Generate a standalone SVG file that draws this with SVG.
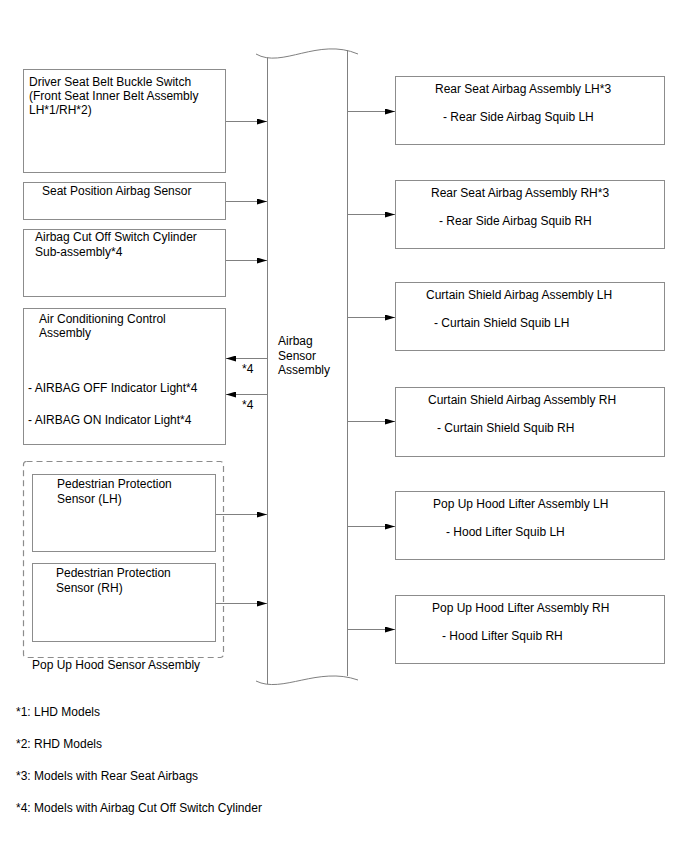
<svg xmlns="http://www.w3.org/2000/svg" width="688" height="852" viewBox="0 0 688 852">
<style>
text{font-family:"Liberation Sans",Arial,sans-serif;font-size:12px;fill:#000}
.box{fill:#fff;stroke:#8c8c8c;stroke-width:1}
.dash{fill:none;stroke:#8c8c8c;stroke-width:1.2;stroke-dasharray:6,4}
.ln{fill:none;stroke:#808080;stroke-width:1}
</style>
<defs>
<marker id="ah" viewBox="0 0 10 6" refX="10" refY="3" markerWidth="10" markerHeight="6" markerUnits="userSpaceOnUse" orient="auto">
<path d="M0,0 L10,3 L0,6 Z" fill="#000"/>
</marker>
</defs>
<rect width="688" height="852" fill="#fff"/>

<g id="airbag-sensor-assembly">
<path class="ln" d="M256,54 C282,69 318,37 358,54"/>
<path class="ln" d="M256,681 C282,694 318,666 358,680"/>
<line class="ln" x1="267.5" y1="57.5" x2="267.5" y2="684"/>
<line class="ln" x1="347.5" y1="50" x2="347.5" y2="676"/>
<text x="278" y="345">Airbag</text>
<text x="278" y="360">Sensor</text>
<text x="278" y="374">Assembly</text>
</g>

<g id="driver-buckle">
<rect class="box" x="23.5" y="69.5" width="202" height="103"/>
<text x="29" y="86">Driver Seat Belt Buckle Switch</text>
<text x="29" y="100">(Front Seat Inner Belt Assembly</text>
<text x="29" y="114">LH*1/RH*2)</text>
</g>

<g id="seat-position">
<rect class="box" x="23.5" y="182.5" width="202" height="37"/>
<text x="42" y="195">Seat Position Airbag Sensor</text>
</g>

<g id="cut-off-switch">
<rect class="box" x="23.5" y="229.5" width="202" height="67"/>
<text x="35" y="241">Airbag Cut Off Switch Cylinder</text>
<text x="35" y="256">Sub-assembly*4</text>
</g>

<g id="air-con">
<rect class="box" x="23.5" y="308.5" width="202" height="136"/>
<text x="39" y="323">Air Conditioning Control</text>
<text x="39" y="337">Assembly</text>
<text x="28" y="392">- AIRBAG OFF Indicator Light*4</text>
<text x="28" y="424">- AIRBAG ON Indicator Light*4</text>
</g>

<g id="pop-up-hood-sensor">
<rect class="dash" x="23.5" y="461.5" width="200" height="196" rx="3"/>
<text x="32" y="669">Pop Up Hood Sensor Assembly</text>
</g>

<g id="ped-lh">
<rect class="box" x="32.5" y="474.5" width="183" height="77"/>
<text x="57" y="488">Pedestrian Protection</text>
<text x="57" y="503">Sensor (LH)</text>
</g>

<g id="ped-rh">
<rect class="box" x="32.5" y="563.5" width="183" height="78"/>
<text x="56" y="577">Pedestrian Protection</text>
<text x="56" y="592">Sensor (RH)</text>
</g>

<g id="rear-lh">
<rect class="box" x="395.5" y="76.5" width="269" height="68"/>
<text x="435" y="93">Rear Seat Airbag Assembly LH*3</text>
<text x="443" y="121">- Rear Side Airbag Squib LH</text>
</g>

<g id="rear-rh">
<rect class="box" x="395.5" y="180.5" width="269" height="68"/>
<text x="431" y="197">Rear Seat Airbag Assembly RH*3</text>
<text x="439" y="225">- Rear Side Airbag Squib RH</text>
</g>

<g id="curtain-lh">
<rect class="box" x="395.5" y="282.5" width="269" height="68"/>
<text x="426" y="299">Curtain Shield Airbag Assembly LH</text>
<text x="434" y="327">- Curtain Shield Squib LH</text>
</g>

<g id="curtain-rh">
<rect class="box" x="395.5" y="387.5" width="269" height="69"/>
<text x="428" y="404">Curtain Shield Airbag Assembly RH</text>
<text x="437" y="432">- Curtain Shield Squib RH</text>
</g>

<g id="hood-lh">
<rect class="box" x="395.5" y="491.5" width="269" height="68"/>
<text x="433" y="508">Pop Up Hood Lifter Assembly LH</text>
<text x="446" y="536">- Hood Lifter Squib LH</text>
</g>

<g id="hood-rh">
<rect class="box" x="395.5" y="595.5" width="269" height="68"/>
<text x="432" y="612">Pop Up Hood Lifter Assembly RH</text>
<text x="442" y="640">- Hood Lifter Squib RH</text>
</g>

<g id="connectors">
<line class="ln" x1="226" y1="121.5" x2="267" y2="121.5" marker-end="url(#ah)"/>
<line class="ln" x1="226" y1="201.5" x2="267" y2="201.5" marker-end="url(#ah)"/>
<line class="ln" x1="226" y1="260.5" x2="267" y2="260.5" marker-end="url(#ah)"/>
<line class="ln" x1="267" y1="358.5" x2="226" y2="358.5" marker-end="url(#ah)"/>
<line class="ln" x1="267" y1="394.5" x2="226" y2="394.5" marker-end="url(#ah)"/>
<text x="242" y="373">*4</text>
<text x="242" y="409">*4</text>
<line class="ln" x1="216" y1="514.5" x2="267" y2="514.5" marker-end="url(#ah)"/>
<line class="ln" x1="216" y1="603.5" x2="267" y2="603.5" marker-end="url(#ah)"/>
<line class="ln" x1="348" y1="111.5" x2="395" y2="111.5" marker-end="url(#ah)"/>
<line class="ln" x1="348" y1="214.5" x2="395" y2="214.5" marker-end="url(#ah)"/>
<line class="ln" x1="348" y1="317.5" x2="395" y2="317.5" marker-end="url(#ah)"/>
<line class="ln" x1="348" y1="421.5" x2="395" y2="421.5" marker-end="url(#ah)"/>
<line class="ln" x1="348" y1="526.5" x2="395" y2="526.5" marker-end="url(#ah)"/>
<line class="ln" x1="348" y1="629.5" x2="395" y2="629.5" marker-end="url(#ah)"/>
</g>

<g id="notes">
<text x="16" y="716">*1: LHD Models</text>
<text x="16" y="748">*2: RHD Models</text>
<text x="16" y="780">*3: Models with Rear Seat Airbags</text>
<text x="16" y="812">*4: Models with Airbag Cut Off Switch Cylinder</text>
</g>
</svg>
